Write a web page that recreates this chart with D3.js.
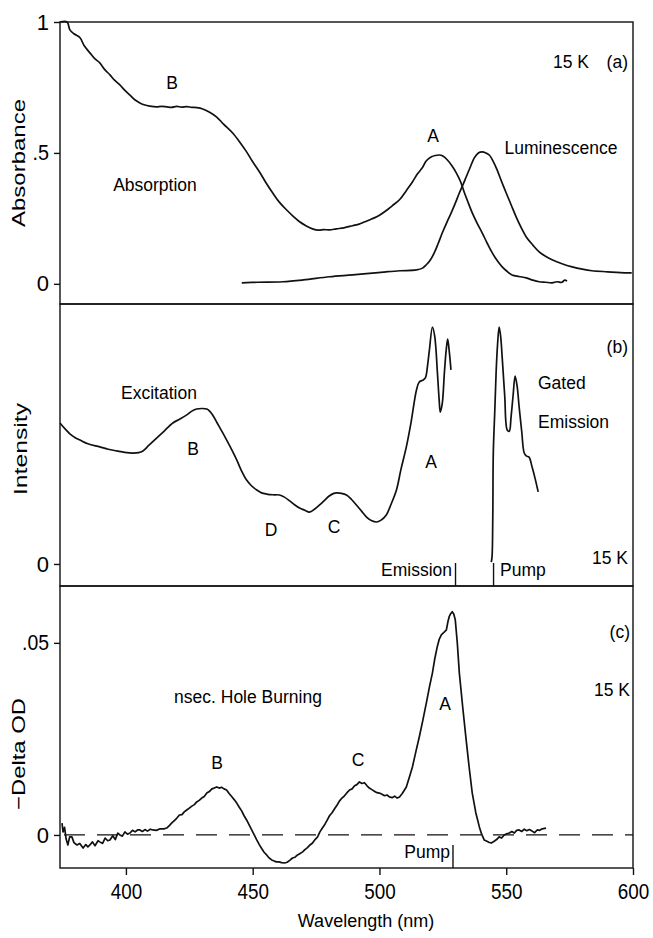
<!DOCTYPE html>
<html>
<head>
<meta charset="utf-8">
<script src="https://cdn.jsdelivr.net/npm/d3@7"></script>
<style>
  html, body { margin: 0; padding: 0; background: #fff; }
  svg { display: block; }
  text { font-family: "Liberation Sans", Arial, sans-serif; fill: #000; }
</style>
</head>
<body>
<svg id="chart" width="653" height="938"></svg>
<script>
// ---------------- DATA ----------------
const xTicks = [400, 450, 500, 550, 600];
const xTickLabels = ["400", "450", "500", "550", "600"];
const aTicks = [0, 0.5, 1];
const aTickLabels = ["0", ".5", "1"];
const bTicks = [0];
const bTickLabels = ["0"];
const cTicks = [0, 0.05];
const cTickLabels = ["0", ".05"];

// Panel (a): absorption [nm, absorbance]
const absorption = [[374,1.0],[376.8,1.0],[377.9,0.97],[379.5,0.955],[381.9,0.94],[383.5,0.91],[385.8,0.882],[387.5,0.862],[389.7,0.844],[391.5,0.82],[393.7,0.798],[395.5,0.778],[397.6,0.76],[399.5,0.74],[401.6,0.721],[403.5,0.703],[405.5,0.691],[407.5,0.683],[409.4,0.679],[412,0.676],[414,0.678],[416.1,0.676],[418,0.674],[420,0.678],[422,0.675],[424,0.677],[426,0.674],[428,0.673],[430.3,0.668],[433,0.655],[435.8,0.637],[438.5,0.61],[442.1,0.576],[445,0.54],[447.6,0.504],[450,0.466],[452.7,0.427],[455,0.39],[457.9,0.347],[460.5,0.312],[463.4,0.282],[466,0.258],[468.5,0.237],[471,0.222],[473.6,0.21],[476,0.205],[478,0.207],[480.3,0.206],[483,0.21],[486,0.214],[489.4,0.222],[492,0.228],[494,0.236],[496,0.244],[498,0.252],[500,0.262],[502.7,0.28],[505,0.298],[507.9,0.321],[510.5,0.355],[513,0.389],[515,0.42],[516.9,0.443],[518.5,0.47],[520.5,0.485],[522,0.49],[523.6,0.492],[525,0.488],[526.8,0.473],[528.5,0.452],[530.3,0.424],[532,0.39],[533.4,0.351],[535,0.31],[536.6,0.271],[538.5,0.232],[540.5,0.195],[542.5,0.155],[544.5,0.118],[546.5,0.088],[548.4,0.065],[550.3,0.048],[552.3,0.034],[555,0.028],[557.9,0.023],[560.5,0.014],[563,0.008],[565.5,0.006],[568.1,0.004],[570,0.008],[572,0.006],[573,0.014],[574,0.011]];

// Panel (a): luminescence [nm, relative]
const luminescence = [[445.7,0.004],[452,0.006],[461.8,0.008],[470,0.015],[480.3,0.027],[489.4,0.034],[496,0.04],[502.7,0.046],[508,0.05],[514.6,0.053],[517,0.06],[518.5,0.073],[520,0.09],[521.6,0.118],[523.2,0.155],[524.8,0.195],[526.5,0.233],[528.3,0.271],[530,0.31],[531.5,0.347],[533,0.38],[534.2,0.408],[536,0.45],[537.4,0.481],[539,0.5],[540.5,0.504],[542,0.5],[543.3,0.492],[545,0.465],[546.4,0.435],[548.2,0.39],[550,0.347],[552,0.3],[553.9,0.256],[556,0.213],[557.9,0.179],[560.5,0.148],[563,0.122],[565.5,0.105],[568.1,0.092],[572,0.077],[576,0.065],[580,0.056],[583.8,0.05],[590,0.046],[595,0.043],[599.5,0.042]];

// Panel (b): excitation [nm, intensity]
const excitation = [[374,0.595],[376,0.57],[378,0.548],[380,0.533],[381.9,0.523],[385,0.507],[389.7,0.494],[393,0.484],[396.4,0.477],[399.5,0.471],[402.7,0.468],[405,0.47],[406.7,0.477],[409,0.5],[412.2,0.532],[415,0.56],[418.5,0.595],[421,0.61],[424,0.629],[426,0.645],[427.9,0.654],[430,0.656],[431.9,0.654],[433,0.645],[434.2,0.629],[436,0.595],[438.2,0.553],[441,0.497],[443.7,0.439],[445.5,0.395],[447.6,0.354],[449.5,0.33],[451.6,0.312],[453.5,0.3],[455.5,0.295],[458,0.292],[460.6,0.291],[462.5,0.282],[464.6,0.266],[466.5,0.25],[468.5,0.236],[470.5,0.227],[472.4,0.219],[474.5,0.232],[476.4,0.249],[478.5,0.27],[480.3,0.288],[482,0.298],[483.1,0.3],[485,0.298],[487,0.291],[489,0.272],[490.9,0.249],[493,0.222],[494.9,0.198],[497,0.182],[498.8,0.177],[500.5,0.184],[502.7,0.207],[504.5,0.25],[506.7,0.312],[508.5,0.4],[510.6,0.494],[512.5,0.6],[514.6,0.734],[515.7,0.768],[517,0.775],[518.1,0.785],[519,0.84],[519.7,0.903],[520.9,1.0],[521.8,0.96],[522.9,0.8],[523.5,0.7],[524,0.641],[524.8,0.68],[525.6,0.806],[526.3,0.9],[526.9,0.949],[527.5,0.9],[528.2,0.819]];

// Panel (b): gated emission [nm, intensity]
const gatedEmission = [[544.1,0.008],[544.4,0.03],[544.7,0.2],[544.9,0.468],[545.5,0.65],[546,0.806],[546.6,0.93],[547.2,1.0],[547.8,0.96],[548.4,0.873],[549.4,0.71],[550.4,0.565],[551.2,0.56],[551.9,0.62],[552.7,0.71],[553.5,0.793],[554.3,0.75],[555.1,0.662],[556.1,0.56],[557.1,0.468],[558,0.455],[559,0.451],[560.2,0.409],[561.4,0.36],[562.6,0.304]];

// Panel (c): nsec hole burning [nm, -delta OD]
const holeBurning = [[374.8,0.0031],[375.2,0.0008],[375.8,0.002],[376.4,-0.001],[377.1,-0.0026],[377.8,-0.0005],[378.7,-0.0005],[379.5,-0.002],[380.7,-0.0026],[381.8,-0.0022],[383.1,-0.0034],[384.2,-0.0025],[385,-0.0031],[385.8,-0.0026],[386.8,-0.0018],[387.8,-0.0028],[389,-0.0015],[389.7,-0.0018],[390.8,-0.0022],[391.8,-0.0008],[392.8,-0.0015],[393.7,-0.0013],[394.8,-0.0002],[395.8,-0.0012],[396.8,0.0005],[397.6,0],[398.6,-0.0003],[399.6,0.0008],[400.6,0.0002],[401.6,0.0005],[402.6,0.0012],[403.6,0.0008],[404.6,0.0013],[405.5,0.0013],[406.5,0.0009],[407.5,0.0014],[408.5,0.001],[409.6,0.0015],[410.6,0.0013],[412,0.0012],[413.5,0.0016],[415,0.0016],[416.1,0.0018],[417.2,0.0025],[418.2,0.0032],[419.2,0.0038],[420.1,0.0044],[421.1,0.0052],[422.1,0.0053],[423,0.006],[424,0.0065],[425,0.007],[426,0.0075],[427,0.0079],[427.9,0.0086],[428.9,0.009],[429.9,0.0096],[430.9,0.01],[431.9,0.0109],[432.9,0.0113],[433.9,0.012],[434.8,0.0122],[435.8,0.0125],[436.8,0.0122],[437.7,0.0124],[438.7,0.012],[439.7,0.0117],[440.7,0.0108],[441.7,0.01],[442.7,0.0092],[443.7,0.0083],[444.7,0.0072],[445.7,0.0062],[446.6,0.005],[447.6,0.0039],[448.6,0.0026],[449.6,0.0013],[450.6,0.0],[451.6,-0.0013],[452.6,-0.0025],[453.6,-0.0036],[454.5,-0.0045],[455.5,-0.0052],[456.5,-0.006],[457.5,-0.0065],[458.5,-0.0068],[459.4,-0.007],[460.4,-0.007],[461.4,-0.0072],[462.6,-0.0073],[463.6,-0.0071],[464.6,-0.0066],[465.7,-0.006],[466.7,-0.0058],[467.7,-0.0052],[468.7,-0.0048],[469.7,-0.0044],[470.6,-0.0038],[471.6,-0.0033],[472.6,-0.0026],[473.6,-0.0021],[474.6,-0.0012],[475.6,-0.0005],[476.5,0.0008],[477.5,0.0018],[478.5,0.0028],[479.5,0.004],[480.3,0.005],[481.3,0.0058],[482.3,0.0068],[483.3,0.0078],[484.2,0.0088],[485.2,0.0096],[486.2,0.0102],[487.2,0.011],[488.2,0.0117],[489.2,0.012],[490.2,0.0128],[491.1,0.0131],[492.1,0.0138],[493.1,0.0134],[494.1,0.0136],[495.1,0.0128],[496,0.0122],[497,0.0118],[498,0.0114],[499,0.011],[500,0.0109],[501,0.0106],[502,0.0102],[503,0.0104],[503.9,0.0099],[505,0.0097],[506,0.0101],[507,0.0096],[507.9,0.0099],[509,0.0108],[510.6,0.0125],[512,0.0155],[513,0.0177],[514.3,0.0215],[515.7,0.0255],[517,0.0295],[518.5,0.0344],[519.7,0.0385],[520.9,0.0422],[521.8,0.0458],[522.8,0.049],[523.6,0.051],[524.4,0.0521],[525.4,0.0527],[526.4,0.0534],[527,0.0555],[527.5,0.0568],[528.1,0.0576],[528.7,0.0581],[529.3,0.0575],[529.9,0.056],[530.7,0.05],[531.5,0.0422],[532.8,0.0335],[534.2,0.0247],[535.4,0.0175],[536.6,0.0109],[538,0.0058],[539.4,0.0021],[540.3,0.0002],[541.3,-0.0013],[542.2,-0.0016],[543.1,-0.0019],[544.1,-0.0021],[545.1,-0.0017],[546.2,-0.0012],[547.2,-0.0005],[548.2,-0.0008],[549.2,0.0],[550.2,0.0003],[551.2,0.0005],[552.2,0.0009],[553.2,0.0005],[554.1,0.0012],[555.1,0.0013],[556.1,0.0009],[557.1,0.0015],[558.1,0.0011],[559.1,0.0014],[560.2,0.001],[561.2,0.0006],[562.2,0.0013],[563.2,0.0012],[564.2,0.0016],[565.7,0.0018]];

// Marker wavelengths
const emissionMarkB = 530;
const pumpMarkB = 545;
const pumpMarkC = 529;

// ---------------- DRAW ----------------
const svg = d3.select("#chart");
const L = 60, R = 633;
const x = d3.scaleLinear().domain([374, 600]).range([L, R]);

const yA = d3.scaleLinear().domain([-0.077, 1]).range([304, 22]);
const yB = d3.scaleLinear().domain([-0.093, 1.097]).range([586, 304]);
const yC = d3.scaleLinear().domain([-0.0086, 0.0648]).range([868, 586]);

const ink = "#111";
const frame = svg.append("g").attr("stroke", ink).attr("stroke-width", 1.4).attr("fill", "none");
[[22, 304], [304, 586], [586, 868]].forEach(([t, b]) => {
  frame.append("rect").attr("x", L).attr("y", t).attr("width", R - L).attr("height", b - t);
});

// narrow, tall numerals like the plotter font
function numLen(s) {
  let w = 0;
  for (const ch of s) w += (ch === ".") ? 6 : 10.5;
  return w;
}
function styleTickText(sel) {
  sel.attr("font-size", 22).attr("font-family", "Liberation Sans, Arial, sans-serif").attr("fill", "#000")
    .each(function() {
      const s = this.textContent;
      if (s.length > 1) d3.select(this).attr("textLength", numLen(s)).attr("lengthAdjust", "spacingAndGlyphs");
    });
}

function yAxis(scale, ticks, labels) {
  const g = svg.append("g").attr("transform", `translate(${L},0)`);
  const ax = d3.axisLeft(scale).tickValues(ticks).tickSize(6).tickPadding(5)
    .tickFormat((d, i) => labels[i]);
  g.call(ax);
  g.select(".domain").remove();
  g.selectAll(".tick line").attr("stroke", ink).attr("stroke-width", 1.4);
  styleTickText(g.selectAll(".tick text"));
}
yAxis(yA, aTicks, aTickLabels);
yAxis(yB, bTicks, bTickLabels);
yAxis(yC, cTicks, cTickLabels);

const xg = svg.append("g").attr("transform", "translate(0,868)");
xg.call(d3.axisBottom(x).tickValues(xTicks).tickSize(7).tickPadding(8).tickFormat((d, i) => xTickLabels[i]));
xg.select(".domain").remove();
xg.selectAll(".tick line").attr("stroke", ink).attr("stroke-width", 1.4);
styleTickText(xg.selectAll(".tick text"));

// zero dashed line panel c
svg.append("line")
  .attr("x1", x(374)).attr("x2", x(600)).attr("y1", yC(0)).attr("y2", yC(0))
  .attr("stroke", ink).attr("stroke-width", 1.3).attr("stroke-dasharray", "21,12")
  .attr("stroke-dashoffset", -4);

function curve(data, ys, smooth) {
  const line = d3.line().x(d => x(d[0])).y(d => ys(d[1]))
    .curve(smooth ? d3.curveCatmullRom.alpha(0.5) : d3.curveLinear);
  svg.append("path").datum(data).attr("d", line)
    .attr("fill", "none").attr("stroke", ink).attr("stroke-width", 1.7)
    .attr("stroke-linejoin", "round");
}
curve(absorption, yA, true);
curve(luminescence, yA, true);
curve(excitation, yB, true);
curve(gatedEmission, yB, true);
curve(holeBurning, yC, false);

function mark(wl, bottom) {
  svg.append("line").attr("x1", x(wl)).attr("x2", x(wl)).attr("y1", bottom - 23).attr("y2", bottom)
    .attr("stroke", ink).attr("stroke-width", 1.4);
}
mark(emissionMarkB, 586);
mark(pumpMarkB, 586);
mark(pumpMarkC, 868);

function label(t, px, py, anchor, size) {
  svg.append("text").attr("x", px).attr("y", py).attr("text-anchor", anchor || "middle")
    .attr("dominant-baseline", "central").attr("font-size", size || 17.5).text(t);
}
// panel a
label("B", 172, 83);
label("Absorption", 155, 185);
label("A", 433, 136);
label("Luminescence", 561, 148);
label("15 K", 589, 62, "end");
label("(a)", 628, 62, "end");
// panel b
label("Excitation", 159, 393);
label("B", 193, 449);
label("D", 271, 530);
label("C", 334, 527);
label("A", 431, 462);
label("(b)", 628, 347, "end");
label("Gated", 538, 383, "start");
label("Emission", 538, 422, "start");
label("15 K", 628, 558, "end");
label("Emission", 452, 570, "end");
label("Pump", 500, 570, "start");
// panel c
label("nsec. Hole Burning", 248, 697);
label("B", 217, 763);
label("C", 358, 760);
label("A", 445, 704);
label("(c)", 630, 632, "end");
label("15 K", 630, 690, "end");
label("Pump", 450, 852, "end");

function vtitle(t, cx, cy, len) {
  svg.append("text").attr("transform", `translate(${cx},${cy}) rotate(-90)`)
    .attr("text-anchor", "middle").attr("dominant-baseline", "central")
    .attr("font-size", 19).attr("textLength", len).attr("lengthAdjust", "spacingAndGlyphs").text(t);
}
vtitle("Absorbance", 18, 163, 128);
vtitle("Intensity", 20, 449, 92);
vtitle("\u2212Delta OD", 18, 754, 112);

svg.append("text").attr("x", 366).attr("y", 921).attr("text-anchor", "middle")
  .attr("dominant-baseline", "central").attr("font-size", 18).text("Wavelength (nm)");
</script>
</body>
</html>
